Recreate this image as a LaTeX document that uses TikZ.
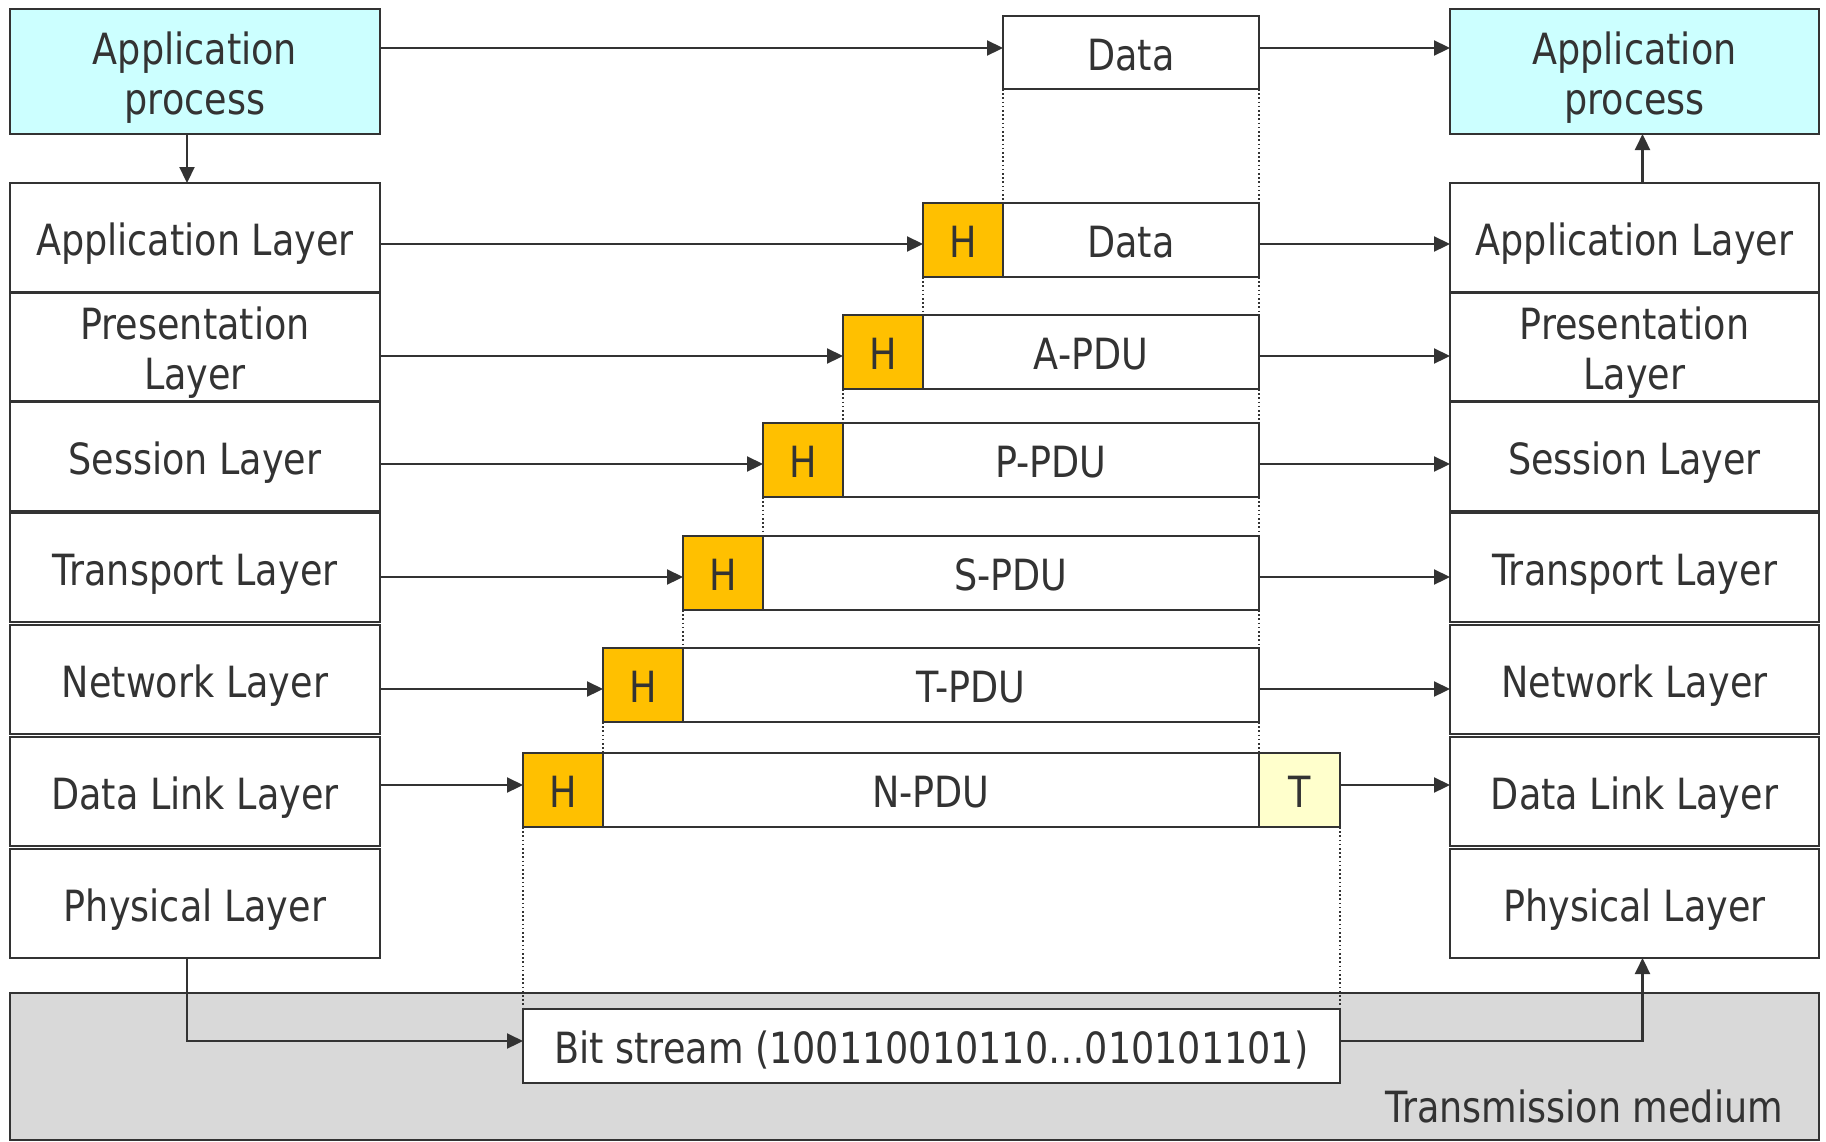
\documentclass[tikz,border=0pt]{standalone}
\usepackage{fontspec}
\setmainfont{DejaVu Sans}[FakeStretch=0.85]
\usetikzlibrary{arrows.meta,calc}
\definecolor{ink}{HTML}{333333}
\definecolor{cyanfill}{HTML}{CCFFFF}
\definecolor{hfill}{HTML}{FFC000}
\definecolor{tfill}{HTML}{FFFFCC}
\definecolor{medium}{HTML}{D9D9D9}
\begin{document}
\begin{tikzpicture}[x=1pt,y=-1pt,
  every node/.style={font=\fontsize{43}{50}\selectfont, text=ink, inner sep=0pt, outer sep=0pt},
  box/.style={draw=ink, line width=2.2pt, anchor=north west, align=center, fill=white,
              text height=40pt, text depth=5pt},
  twoline/.style={text height=90pt, text depth=5pt},
  layerL/.style={box, minimum width=370pt, minimum height=109pt},
  layerR/.style={box, minimum width=369pt, minimum height=109pt},
  proc/.style={box, twoline, fill=cyanfill, minimum height=125pt},
  pdu/.style={box, minimum height=74pt},
  hdr/.style={box, fill=hfill, minimum width=80pt, minimum height=74pt},
  trl/.style={box, fill=tfill, minimum width=81pt, minimum height=74pt},
  arr/.style={draw=ink, line width=2.2pt, -{Triangle[length=16pt,width=15pt]}},
  dotline/.style={draw=ink, line width=1.6pt, dash pattern=on 1.6pt off 2.6pt},
]
\useasboundingbox (0,0) rectangle (1826,1141);

% transmission medium
\node[box, fill=medium, minimum width=1809pt, minimum height=147pt] (TM) at (10,993) {};
\node[anchor=base east] (TMlabel) at (1783,1122) {Transmission medium};

% application processes
\node[proc, minimum width=370pt] (LAP) at (10,9) {Application\\process};
\node[proc, minimum width=369pt] (RAP) at (1450,9) {Application\\process};

% left stack
\node[layerL] (L1) at (10,183) {Application Layer};
\node[layerL, twoline] (L2) at (10,292.5) {Presentation\\Layer};
\node[layerL] (L3) at (10,402) {Session Layer};
\node[layerL] (L4) at (10,513) {Transport Layer};
\node[layerL] (L5) at (10,625) {Network Layer};
\node[layerL] (L6) at (10,737) {Data Link Layer};
\node[layerL] (L7) at (10,849) {Physical Layer};

% right stack
\node[layerR] (R1) at (1450,183) {Application Layer};
\node[layerR, twoline] (R2) at (1450,292.5) {Presentation\\Layer};
\node[layerR] (R3) at (1450,402) {Session Layer};
\node[layerR] (R4) at (1450,513) {Transport Layer};
\node[layerR] (R5) at (1450,625) {Network Layer};
\node[layerR] (R6) at (1450,737) {Data Link Layer};
\node[layerR] (R7) at (1450,849) {Physical Layer};

% PDUs
\node[pdu, minimum width=256pt, minimum height=73pt] (D0) at (1003,16) {Data};
\node[hdr] (H1) at (923,203) {H};
\node[pdu, minimum width=256pt] (P1) at (1003,203) {Data};
\node[hdr] (H2) at (843,315) {H};
\node[pdu, minimum width=336pt] (P2) at (923,315) {A-PDU};
\node[hdr] (H3) at (763,423) {H};
\node[pdu, minimum width=416pt] (P3) at (843,423) {P-PDU};
\node[hdr] (H4) at (683,536) {H};
\node[pdu, minimum width=496pt] (P4) at (763,536) {S-PDU};
\node[hdr] (H5) at (603,648) {H};
\node[pdu, minimum width=576pt] (P5) at (683,648) {T-PDU};
\node[hdr] (H6) at (523,753) {H};
\node[pdu, minimum width=656pt] (P6) at (603,753) {N-PDU};
\node[trl] (T6) at (1259,753) {T};
\node[pdu, minimum width=817pt] (BS) at (523,1009) {Bit stream (100110010110…010101101)};

% dotted guides
\draw[dotline] (D0.south west) -- (P1.north west);
\draw[dotline] (D0.south east) -- (P1.north east);
\draw[dotline] (H1.south west) -- (P2.north west);
\draw[dotline] (P1.south east) -- (P2.north east);
\draw[dotline] (H2.south west) -- (P3.north west);
\draw[dotline] (P2.south east) -- (P3.north east);
\draw[dotline] (H3.south west) -- (P4.north west);
\draw[dotline] (P3.south east) -- (P4.north east);
\draw[dotline] (H4.south west) -- (P5.north west);
\draw[dotline] (P4.south east) -- (P5.north east);
\draw[dotline] (H5.south west) -- (P6.north west);
\draw[dotline] (P5.south east) -- (P6.north east);
\draw[dotline] (H6.south west) -- (BS.north west);
\draw[dotline] (T6.south east) -- (BS.north east);

% arrow levels
\coordinate (a0) at ($(D0.west)+(0,-4.5)$);
\coordinate (a1) at ($(H1.west)+(0,4)$);
\coordinate (a2) at ($(H2.west)+(0,4)$);
\coordinate (a3) at ($(H3.west)+(0,4)$);
\coordinate (a4) at ($(H4.west)+(0,4)$);
\coordinate (a5) at ($(H5.west)+(0,4)$);
\coordinate (a6) at ($(H6.west)+(0,-5)$);
\coordinate (ab) at ($(BS.west)+(0,-5)$);

% top level
\draw[arr] (LAP.east |- a0) -- (D0.west |- a0);
\draw[arr] (D0.east |- a0) -- (RAP.west |- a0);
\draw[arr] ([xshift=-8pt]LAP.south) -- ([xshift=-8pt]L1.north);
\draw[arr] ([xshift=8pt]R1.north) -- ([xshift=8pt]RAP.south);

% sender arrows
\draw[arr] (L1.east |- a1) -- (a1);
\draw[arr] (L2.east |- a2) -- (a2);
\draw[arr] (L3.east |- a3) -- (a3);
\draw[arr] (L4.east |- a4) -- (a4);
\draw[arr] (L5.east |- a5) -- (a5);
\draw[arr] (L6.east |- a6) -- (a6);

% receiver arrows
\draw[arr] (P1.east |- a1) -- (R1.west |- a1);
\draw[arr] (P2.east |- a2) -- (R2.west |- a2);
\draw[arr] (P3.east |- a3) -- (R3.west |- a3);
\draw[arr] (P4.east |- a4) -- (R4.west |- a4);
\draw[arr] (P5.east |- a5) -- (R5.west |- a5);
\draw[arr] (T6.east |- a6) -- (R6.west |- a6);

% physical transmission
\draw[arr] ([xshift=-8pt]L7.south) |- (ab);
\draw[arr] (BS.east |- ab) -| ([xshift=8pt]R7.south);
\end{tikzpicture}
\end{document}
